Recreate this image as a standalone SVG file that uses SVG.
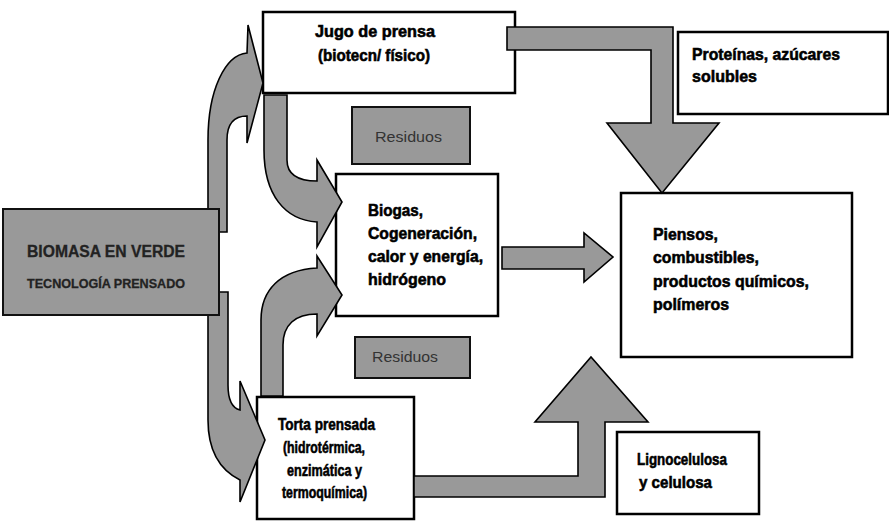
<svg xmlns="http://www.w3.org/2000/svg" width="889" height="528" viewBox="0 0 889 528">
<style>
.box{fill:#fff;stroke:#000;stroke-width:2.5}
.gbox{fill:#999;stroke:#111;stroke-width:2}
.arr{fill:#999;stroke:#000;stroke-width:1.6;stroke-linejoin:miter}
.b{font-family:"Liberation Sans",Arial,sans-serif;font-weight:bold;font-size:17px;fill:#000;stroke:#000;stroke-width:0.6}
.r{font-family:"Liberation Sans",Arial,sans-serif;font-size:15px;fill:#333}
.bm{font-family:"Liberation Sans",Arial,sans-serif;font-weight:bold;fill:#222;stroke:#222;stroke-width:0.3}
</style>
<rect width="889" height="528" fill="#fff"/>
<g id="jugo">
<rect class="box" x="263" y="12" width="252" height="81"/>
<text class="b" x="315" y="37" textLength="120" lengthAdjust="spacingAndGlyphs">Jugo de prensa</text>
<text class="b" x="318" y="61" textLength="112" lengthAdjust="spacingAndGlyphs">(biotecn/ físico)</text>
</g>
<g id="residuos1">
<rect class="gbox" x="352" y="107" width="118" height="57"/>
<text class="r" x="375" y="142" textLength="67" lengthAdjust="spacingAndGlyphs">Residuos</text>
</g>
<g id="biogas">
<rect class="box" x="336" y="174" width="162" height="142"/>
<text class="b" x="368" y="216" textLength="55" lengthAdjust="spacingAndGlyphs">Biogas,</text>
<text class="b" x="368" y="239" textLength="109" lengthAdjust="spacingAndGlyphs">Cogeneración,</text>
<text class="b" x="368" y="262" textLength="115" lengthAdjust="spacingAndGlyphs">calor y energía,</text>
<text class="b" x="368" y="285" textLength="78" lengthAdjust="spacingAndGlyphs">hidrógeno</text>
</g>
<g id="residuos2">
<rect class="gbox" x="355" y="337" width="115" height="41"/>
<text class="r" x="372" y="362" textLength="66" lengthAdjust="spacingAndGlyphs">Residuos</text>
</g>
<g id="torta">
<rect class="box" x="257" y="397" width="157" height="122"/>
<text class="b" x="278" y="430" textLength="97" lengthAdjust="spacingAndGlyphs">Torta prensada</text>
<text class="b" x="283" y="453" textLength="82" lengthAdjust="spacingAndGlyphs">(hidrotérmica,</text>
<text class="b" x="287" y="476" textLength="75" lengthAdjust="spacingAndGlyphs">enzimática y</text>
<text class="b" x="282" y="498" textLength="85" lengthAdjust="spacingAndGlyphs">termoquímica)</text>
</g>
<g id="proteinas">
<rect class="box" x="678" y="32" width="210" height="82"/>
<text class="b" x="692" y="60" textLength="148" lengthAdjust="spacingAndGlyphs">Proteínas, azúcares</text>
<text class="b" x="692" y="82" textLength="65" lengthAdjust="spacingAndGlyphs">solubles</text>
</g>
<g id="piensos">
<rect class="box" x="621" y="193" width="231" height="164"/>
<text class="b" x="653" y="240" textLength="65" lengthAdjust="spacingAndGlyphs">Piensos,</text>
<text class="b" x="653" y="263" textLength="106" lengthAdjust="spacingAndGlyphs">combustibles,</text>
<text class="b" x="653" y="287" textLength="156" lengthAdjust="spacingAndGlyphs">productos químicos,</text>
<text class="b" x="653" y="310" textLength="76" lengthAdjust="spacingAndGlyphs">polímeros</text>
</g>
<g id="lignocelulosa">
<rect class="box" x="617" y="432" width="142" height="82"/>
<text class="b" x="637" y="465" textLength="90" lengthAdjust="spacingAndGlyphs">Lignocelulosa</text>
<text class="b" x="639" y="488" textLength="73" lengthAdjust="spacingAndGlyphs">y celulosa</text>
</g>
<g id="connectors">
<path class="arr" d="M507,27 L673,27 L673,123 L719,123 L662,193 L607,123 L651,123 L651,50 L507,50 Z"/>
<path class="arr" d="M502,247 L584,247 L584,233 L613,257 L584,282 L584,269 L502,269 Z"/>
<path class="arr" d="M414,476 L578,476 L578,422 L535,422 L591,357 L648,422 L605,422 L605,497 L414,497 Z"/>
<path class="arr" d="M208,232 L208,140 C208,90 225,55 247,53 L248,25 L263,83 L247,143 L247,116 C234,116 227,124 227,140 L227,232 Z"/>
<path class="arr" d="M264,95 L287,95 L287,160 C287,173 296,181 317,181 L317,160 L342,202 L317,247 L317,222 C285,220 264,195 264,150 Z"/>
<path class="arr" d="M261,396 L261,320 C261,290 280,270 317,268 L317,256 L342,295 L317,336 L317,314 C295,314 283,325 283,345 L283,396 Z"/>
<path class="arr" d="M208,292 L228,292 L228,385 C228,400 232,408 240,410 L240,381 L265,440 L240,502 L240,480 C220,470 208,450 208,420 Z"/>
</g>
<g id="biomasa">
<rect class="gbox" x="3" y="209" width="216" height="106"/>
<text class="bm" x="27" y="257" font-size="16" textLength="158" lengthAdjust="spacingAndGlyphs">BIOMASA EN VERDE</text>
<text class="bm" x="27" y="288" font-size="13" textLength="158" lengthAdjust="spacingAndGlyphs">TECNOLOGÍA PRENSADO</text>
</g>
</svg>
